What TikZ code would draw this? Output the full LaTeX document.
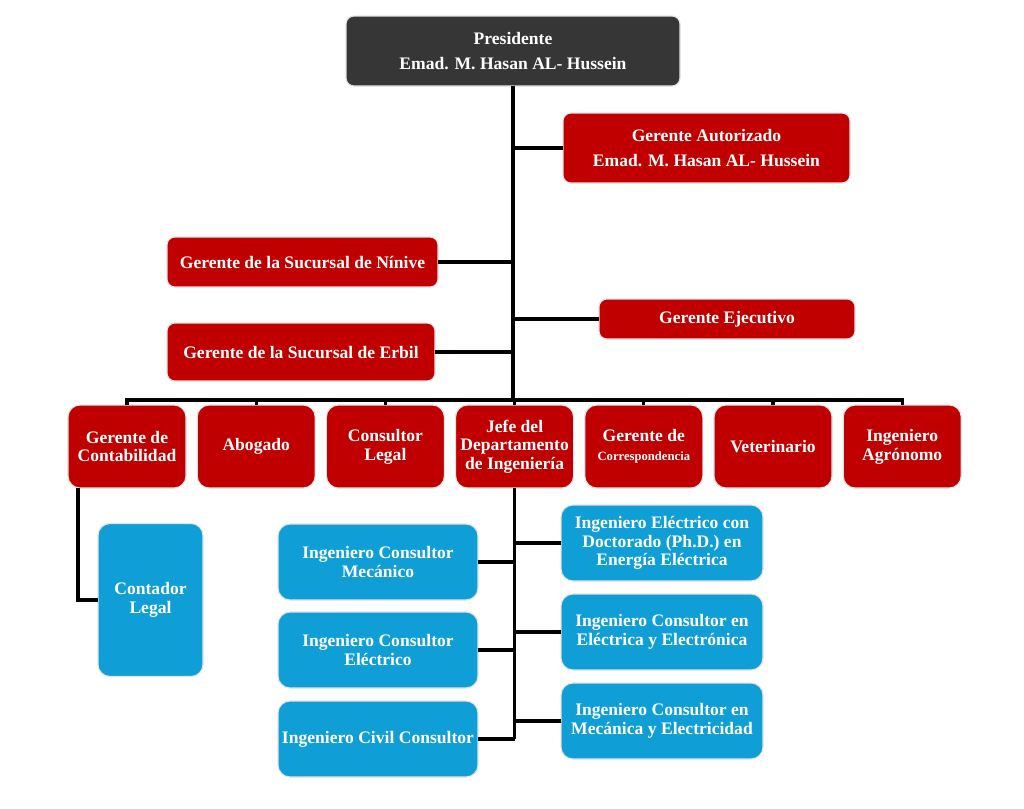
\documentclass[tikz,border=0pt]{standalone}
\usepackage{fontspec}
\setmainfont{Liberation Serif}
\usepackage{tikz}
\usetikzlibrary{positioning,calc}
\definecolor{darkbox}{HTML}{363636}
\definecolor{redbox}{HTML}{C00000}
\definecolor{bluebox}{HTML}{0F9ED5}
\definecolor{rim}{HTML}{E4E4E4}
\tikzset{
    every picture/.style={line join=miter},
    basebox/.style={draw=rim,line width=0.8pt,text=white,align=center,
      inner sep=2pt,outer sep=0pt,font=\fontsize{12.5}{13.3}\selectfont\bfseries},
    headbox/.style={basebox,fill=darkbox,rounded corners=2mm,
      font=\fontsize{12.5}{17.8}\selectfont\bfseries},
    staffbox/.style={basebox,fill=redbox,rounded corners=2mm},
    rowbox/.style={basebox,fill=redbox,rounded corners=3mm,
      minimum width=29.5mm,minimum height=20.75mm},
    engbox/.style={basebox,fill=bluebox,rounded corners=3mm,
      minimum width=50mm,minimum height=19mm},
    link/.style={draw=black,line width=2.2pt}
}

\begin{document}
\begin{tikzpicture}[x=0.25mm,y=-0.25mm,node distance=2.8mm]
    \useasboundingbox (0,0) rectangle (1024,808);
    % top of the chart
    \node[headbox,minimum width=83.5mm,minimum height=17.5mm] (pres) at (513,51)
      {Presidente\\Emad. M. Hasan AL- Hussein};
    \node[staffbox,minimum width=71.75mm,minimum height=17.5mm,
      font=\fontsize{12.5}{17.8}\selectfont\bfseries] (autor) at (706.5,148)
      {Gerente Autorizado\\Emad. M. Hasan AL- Hussein};
    \node[staffbox,minimum width=67.75mm,minimum height=12.5mm] (ninive) at (302.5,262)
      {Gerente de la Sucursal de Nínive};
    \node[staffbox,minimum width=64mm,minimum height=10mm] (ejec) at (727,319)
      {Gerente Ejecutivo};
    \node[staffbox,minimum width=67mm,minimum height=14.5mm] (erbil) at (301,352)
      {Gerente de la Sucursal de Erbil};
    \coordinate (bar) at (513,400);
    % departments
    \node[rowbox] (conta) at (127,446.5) {Gerente de\\Contabilidad};
    \node[rowbox,right=of conta] (abog) {Abogado};
    \node[rowbox,right=of abog] (legal) {Consultor\\Legal};
    \node[rowbox,right=of legal] (jefe) {Jefe del\\Departamento\\de Ingeniería};
    \node[rowbox,right=of jefe] (corresp)
      {Gerente de\\{\fontsize{9}{10}\selectfont Correspondencia}};
    \node[rowbox,right=of corresp] (vet) {Veterinario};
    \node[rowbox,right=of vet] (agro) {Ingeniero\\Agrónomo};
    % engineering staff
    \node[engbox,minimum width=26.25mm,minimum height=38.25mm] (contador) at (150.5,600)
      {Contador\\Legal};
    \node[engbox] (mec) at (378,562) {Ingeniero Consultor\\Mecánico};
    \node[engbox] (elec) at (378,650) {Ingeniero Consultor\\Eléctrico};
    \node[engbox] (civil) at (378,739) {Ingeniero Civil Consultor};
    \node[engbox,minimum width=50.5mm] (phd) at (662,543)
      {Ingeniero Eléctrico con\\Doctorado (Ph.D.) en\\Energía Eléctrica};
    \node[engbox,minimum width=50.5mm] (eye) at (662,632)
      {Ingeniero Consultor en\\Eléctrica y Electrónica};
    \node[engbox,minimum width=50.5mm] (mye) at (662,721)
      {Ingeniero Consultor en\\Mecánica y Electricidad};
    % connectors
    \draw[link] (pres.south) -- (bar);
    \foreach \n in {autor,ninive,ejec,erbil}
      \draw[link] (\n) -- (\n -| pres.south);
    \draw[link] (conta.north) |- (bar) -| (agro.north);
    \foreach \n in {abog,legal,jefe,corresp,vet}
      \draw[link] (\n.north) -- (\n.north |- bar);
    \draw[link] ([xshift=2.5mm]conta.south west) |- (contador.west);
    \draw[link] (jefe.south) -- (jefe.south |- civil);
    \foreach \n in {mec,elec,civil,phd,eye,mye}
      \draw[link] (\n) -- (\n -| jefe.south);
\end{tikzpicture}
\end{document}
